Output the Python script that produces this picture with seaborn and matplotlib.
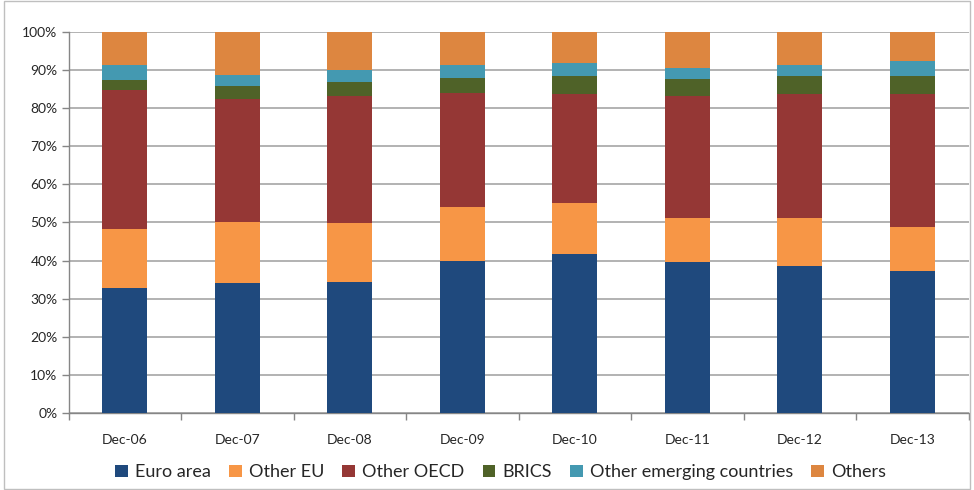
import pandas as pd
import numpy as np
import matplotlib
matplotlib.use("Agg")
import matplotlib.pyplot as plt
import seaborn as sns
from matplotlib.ticker import PercentFormatter, FixedLocator
from matplotlib.patches import Rectangle

# data (shares in %)
periods = ["Dec-06", "Dec-07", "Dec-08", "Dec-09", "Dec-10", "Dec-11", "Dec-12", "Dec-13"]
euro_area = [32.7, 34.2, 34.5, 39.8, 41.7, 39.5, 38.7, 37.3]
other_eu = [15.7, 16.0, 15.4, 14.2, 13.5, 11.7, 12.4, 11.6]
other_oecd = [36.4, 32.1, 33.4, 29.9, 28.4, 32.1, 32.5, 34.7]
brics = [2.6, 3.5, 3.6, 4.1, 4.7, 4.4, 4.7, 4.9]
other_emerging = [3.8, 3.0, 3.0, 3.2, 3.4, 2.9, 3.1, 3.8]
others = [8.8, 11.2, 10.1, 8.8, 8.3, 9.4, 8.6, 7.7]

series = ["Euro area", "Other EU", "Other OECD", "BRICS", "Other emerging countries", "Others"]
colors = ["#1F497D", "#F79646", "#953735", "#4F6228", "#4499B1", "#DD8640"]

df = pd.DataFrame({
    "period": periods,
    "Euro area": euro_area,
    "Other EU": other_eu,
    "Other OECD": other_oecd,
    "BRICS": brics,
    "Other emerging countries": other_emerging,
    "Others": others,
})
# normalise to 100% and stack
df[series] = df[series].div(df[series].sum(axis=1), axis=0)
cum = df[series].cumsum(axis=1)
cum["period"] = df["period"]

sns.set_theme(style="white")
plt.rcParams["font.family"] = ["Lato", "DejaVu Sans"]

fig = plt.figure(figsize=(9.74, 4.9), dpi=100)
ax = fig.add_axes([0.0705, 0.157, 0.924, 0.778])

# draw tallest cumulative first so lower segments sit on top
for name, col in reversed(list(zip(series, colors))):
    sns.barplot(data=cum, x="period", y=name, color=col, width=0.4,
                saturation=1, ax=ax, label=name, zorder=3, linewidth=0)

if ax.get_legend() is not None:
    ax.get_legend().remove()

ax.set_ylim(0, 1)
ax.set_xlim(-0.5, len(periods) - 0.5)
ax.yaxis.set_major_locator(FixedLocator(np.arange(0, 1.01, 0.1)))
ax.yaxis.set_major_formatter(PercentFormatter(1.0, decimals=0))
ax.grid(axis="y", color="#A6A6A6", linewidth=1.2, zorder=0)
ax.set_axisbelow(True)
ax.set_xlabel("")
ax.set_ylabel("")

for s in ["top", "right"]:
    ax.spines[s].set_visible(False)
for s in ["left", "bottom"]:
    ax.spines[s].set_color("#868686")
    ax.spines[s].set_linewidth(1)

ax.tick_params(axis="y", length=5, width=1, color="#868686", labelsize=10, pad=3, left=True)
ax.tick_params(axis="x", which="major", length=0, labelsize=10, pad=15)
ax.xaxis.set_minor_locator(FixedLocator(np.arange(-0.5, len(periods), 1)))
ax.tick_params(axis="x", which="minor", length=5, width=1, color="#868686", bottom=True)

handles, labels = ax.get_legend_handles_labels()
order = [labels.index(s) for s in series]
fig.legend([handles[i] for i in order], series, loc="center", bbox_to_anchor=(0.514, 0.036),
           ncol=6, frameon=False, fontsize=13, handlelength=0.7, handleheight=0.7,
           handletextpad=0.4, columnspacing=1.0)

fig.patches.append(Rectangle((0.004, 0.002), 0.992, 0.996, transform=fig.transFigure,
                             fill=False, edgecolor="#BFBFBF", linewidth=1))

fig.savefig("out.png", dpi=100)
